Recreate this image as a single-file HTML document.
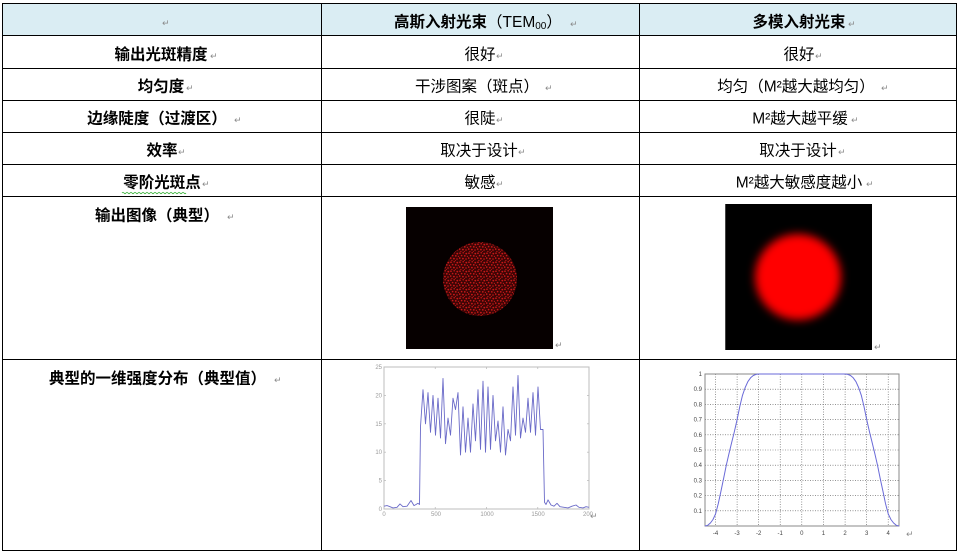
<!DOCTYPE html>
<html><head><meta charset="utf-8">
<style>
html,body{margin:0;padding:0;background:#fff;}
svg{display:block;}
.t{font-family:"Liberation Sans","Noto Sans CJK SC",sans-serif;font-size:15.5px;fill:#000;}
.b{font-weight:bold;}
.r{font-family:"DejaVu Sans",sans-serif;font-size:9px;fill:#8a8a8a;}
.a1{font-family:"Liberation Sans",sans-serif;font-size:6px;fill:#9a9a9a;}
.a2{font-family:"Liberation Sans",sans-serif;font-size:6px;fill:#444;}
</style></head>
<body>
<svg width="962" height="553" viewBox="0 0 962 553" xmlns="http://www.w3.org/2000/svg">
<defs>
  <pattern id="dots" x="0" y="0" width="9" height="9" patternUnits="userSpaceOnUse">
    <rect width="9" height="9" fill="#3e0505"/>
    <g fill="#c81818">
      <circle cx="1" cy="1.2" r="0.85"/><circle cx="4.2" cy="0.8" r="0.75"/><circle cx="7.3" cy="1.6" r="0.9"/>
      <circle cx="2.6" cy="3.6" r="0.8"/><circle cx="5.8" cy="3.9" r="0.85"/><circle cx="8.4" cy="4.4" r="0.6"/>
      <circle cx="0.7" cy="6.1" r="0.8"/><circle cx="3.9" cy="6.6" r="0.9"/><circle cx="7" cy="7" r="0.8"/>
      <circle cx="1.9" cy="8.5" r="0.6"/><circle cx="5.4" cy="8.7" r="0.55"/>
    </g>
  </pattern>
  <filter id="bl" x="-50%" y="-50%" width="200%" height="200%"><feGaussianBlur stdDeviation="4.5"/></filter>
  <clipPath id="img2"><rect x="725" y="204" width="147" height="146"/></clipPath>
</defs>

<!-- header background -->
<rect x="2" y="3" width="955" height="32" fill="#daedf3"/>

<!-- table lines -->
<g stroke="#000" stroke-width="1" fill="none">
  <rect x="2.5" y="3.5" width="954" height="547"/>
  <line x1="2" y1="35.5" x2="957" y2="35.5"/>
  <line x1="2" y1="68.5" x2="957" y2="68.5"/>
  <line x1="2" y1="100.5" x2="957" y2="100.5"/>
  <line x1="2" y1="132.5" x2="957" y2="132.5"/>
  <line x1="2" y1="164.5" x2="957" y2="164.5"/>
  <line x1="2" y1="196.5" x2="957" y2="196.5"/>
  <line x1="2" y1="359.5" x2="957" y2="359.5"/>
  <line x1="321.5" y1="3" x2="321.5" y2="551"/>
  <line x1="639.5" y1="3" x2="639.5" y2="551"/>
</g>

<!-- header -->
<text class="r" x="162" y="26">↵</text>
<text class="t" x="394" y="27"><tspan class="b">高斯入射光束</tspan>（TEM<tspan font-size="10" dy="2">00</tspan><tspan dy="-2">）</tspan></text>
<text class="r" x="570" y="27">↵</text>
<text class="t b" x="799" y="27" text-anchor="middle">多模入射光束</text>
<text class="r" x="848" y="27">↵</text>

<!-- column 1 -->
<text class="t b" x="161" y="59.5" text-anchor="middle">输出光斑精度</text><text class="r" x="210" y="59">↵</text>
<text class="t b" x="161" y="91.5" text-anchor="middle">均匀度</text><text class="r" x="186" y="91">↵</text>
<text class="t b" x="157" y="123.5" text-anchor="middle">边缘陡度（过渡区）</text><text class="r" x="234" y="123">↵</text>
<text class="t b" x="162" y="155.5" text-anchor="middle">效率</text><text class="r" x="178" y="155">↵</text>
<text class="t b" x="162" y="187.5" text-anchor="middle">零阶光斑点</text><text class="r" x="202" y="187">↵</text>
<path d="M122 193 q1 -1.5 2 0 t2 0 t2 0 t2 0 t2 0 t2 0 t2 0 t2 0 t2 0 t2 0 t2 0 t2 0 t2 0 t2 0 t2 0 t2 0 t2 0 t2 0 t2 0 t2 0 t2 0 t2 0 t2 0 t2 0 t2 0 t2 0 t2 0 t2 0 t2 0 t2 0 t2 0 t2 0" stroke="#3cb43c" stroke-width="0.8" fill="none"/>
<text class="t b" x="157" y="220.5" text-anchor="middle">输出图像（典型）</text><text class="r" x="227" y="220">↵</text>
<text class="t b" x="157.5" y="383.5" text-anchor="middle">典型的一维强度分布（典型值）</text><text class="r" x="274" y="383">↵</text>

<!-- column 2 -->
<text class="t" x="480" y="59.5" text-anchor="middle">很好</text><text class="r" x="496" y="59">↵</text>
<text class="t" x="477" y="91.5" text-anchor="middle">干涉图案（斑点）</text><text class="r" x="545" y="91">↵</text>
<text class="t" x="480" y="123.5" text-anchor="middle">很陡</text><text class="r" x="496" y="123">↵</text>
<text class="t" x="479" y="155.5" text-anchor="middle">取决于设计</text><text class="r" x="518" y="155">↵</text>
<text class="t" x="480" y="187.5" text-anchor="middle">敏感</text><text class="r" x="496" y="187">↵</text>

<!-- column 3 -->
<text class="t" x="799" y="59.5" text-anchor="middle">很好</text><text class="r" x="815" y="59">↵</text>
<text class="t" x="796" y="91.5" text-anchor="middle">均匀（M²越大越均匀）</text><text class="r" x="881" y="91">↵</text>
<text class="t" x="800" y="123.5" text-anchor="middle">M²越大越平缓</text><text class="r" x="851" y="123">↵</text>
<text class="t" x="798" y="155.5" text-anchor="middle">取决于设计</text><text class="r" x="838" y="155">↵</text>
<text class="t" x="799" y="187.5" text-anchor="middle">M²越大敏感度越小</text><text class="r" x="866" y="187">↵</text>

<!-- image 1: speckle -->
<rect x="406" y="207" width="147" height="142" fill="#060000"/>
<circle cx="480" cy="279" r="37" fill="url(#dots)"/>
<text class="r" x="555" y="348">↵</text>

<!-- image 2: blurred spot -->
<rect x="725" y="204" width="147" height="146" fill="#000"/>
<line x1="725.5" y1="204" x2="725.5" y2="350" stroke="#444" stroke-width="1"/>
<g clip-path="url(#img2)">
  <circle cx="798" cy="277" r="43" fill="#ff0000" filter="url(#bl)"/>
</g>
<text class="r" x="874" y="350">↵</text>

<!-- chart 1 -->
<g>
  <rect x="384" y="367" width="205" height="142" fill="#fff" stroke="#bdbdbd" stroke-width="1"/>
  <g stroke="#bdbdbd" stroke-width="0.8">
    <line x1="435.25" y1="509" x2="435.25" y2="507"/><line x1="486.5" y1="509" x2="486.5" y2="507"/><line x1="537.75" y1="509" x2="537.75" y2="507"/>
    <line x1="435.25" y1="367" x2="435.25" y2="369"/><line x1="486.5" y1="367" x2="486.5" y2="369"/><line x1="537.75" y1="367" x2="537.75" y2="369"/>
    <line x1="384" y1="480.6" x2="386" y2="480.6"/><line x1="384" y1="452.2" x2="386" y2="452.2"/><line x1="384" y1="423.8" x2="386" y2="423.8"/><line x1="384" y1="395.4" x2="386" y2="395.4"/>
    <line x1="589" y1="480.6" x2="587" y2="480.6"/><line x1="589" y1="452.2" x2="587" y2="452.2"/><line x1="589" y1="423.8" x2="587" y2="423.8"/><line x1="589" y1="395.4" x2="587" y2="395.4"/>
  </g>
  <g class="a1" text-anchor="end">
    <text x="382" y="511">0</text><text x="382" y="482.6">5</text><text x="382" y="454.2">10</text>
    <text x="382" y="425.8">15</text><text x="382" y="397.4">20</text><text x="382" y="369">25</text>
  </g>
  <g class="a1" text-anchor="middle">
    <text x="384" y="516">0</text><text x="436" y="516">500</text><text x="487" y="516">1000</text>
    <text x="538" y="516">1500</text><text x="588" y="516">200</text>
  </g>
  <polyline fill="none" stroke="#6a6ac8" stroke-width="0.9" stroke-linejoin="round" points="
384,506.2 387,505.6 390,506.7 393,507.9 397,507.3 400,503.9 403,506.7 407,506.2 411,500.5 414,505.6 416,504.5 418,503.3 419.5,504.5
420.5,426.6 423,389.7 425.5,423.8 428,392.6 430.5,432.3 433,395.4 435.5,435.2 438,398.2 440.5,438 443,378.4
445.5,443.7 448,418.1 450.5,435.2 453,398.2 455.5,409.6 458,392.6 460.5,455 463,406.8 465.5,452.2 468,418.1
470.5,452.2 473,403.9 475.5,440.8 478,389.7 480.5,449.4 483,381.2 485.5,452.2 488,386.9 490.5,449.4 493,395.4
495.5,440.8 498,421 500.5,452.2 503,406.8 505.5,455 508,429.5 510.5,440.8 513,386.9 515.5,435.2 518,375.5
520.5,438 523,418.1 525.5,432.3 528,398.2 530.5,432.3 533,392.6 535.5,435.2 538,386.9 540.5,429.5 543,429.5
544.5,502.2 546,504.5 548,499.9 551,505 554,506.2 557,503.3 560,506.7 564,507.3 568,507.9 572,506.2 576,505 579,507.3 583,507.9 586,506.7 589,507.3"/>
  <text class="r" x="590" y="519">↵</text>
</g>

<!-- chart 2 -->
<g>
  <rect x="705" y="374" width="194" height="152" fill="#fff"/>
  <g stroke="#555" stroke-width="0.6" stroke-dasharray="1,1.5">
    <line x1="715.6" y1="374" x2="715.6" y2="526"/><line x1="737.1" y1="374" x2="737.1" y2="526"/>
    <line x1="758.7" y1="374" x2="758.7" y2="526"/><line x1="780.2" y1="374" x2="780.2" y2="526"/>
    <line x1="801.8" y1="374" x2="801.8" y2="526"/><line x1="823.4" y1="374" x2="823.4" y2="526"/>
    <line x1="845.1" y1="374" x2="845.1" y2="526"/><line x1="866.7" y1="374" x2="866.7" y2="526"/>
    <line x1="888.2" y1="374" x2="888.2" y2="526"/>
    <line x1="705" y1="510.8" x2="899" y2="510.8"/><line x1="705" y1="495.6" x2="899" y2="495.6"/>
    <line x1="705" y1="480.4" x2="899" y2="480.4"/><line x1="705" y1="465.2" x2="899" y2="465.2"/>
    <line x1="705" y1="450" x2="899" y2="450"/><line x1="705" y1="434.8" x2="899" y2="434.8"/>
    <line x1="705" y1="419.6" x2="899" y2="419.6"/><line x1="705" y1="404.4" x2="899" y2="404.4"/>
    <line x1="705" y1="389.2" x2="899" y2="389.2"/>
  </g>
  <rect x="705" y="374" width="194" height="152" fill="none" stroke="#8a8a8a" stroke-width="1"/>
  <g class="a2" text-anchor="end">
    <text x="702" y="376">1</text><text x="702" y="391.2">0.9</text><text x="702" y="406.4">0.8</text>
    <text x="702" y="421.6">0.7</text><text x="702" y="436.8">0.6</text><text x="702" y="452">0.5</text>
    <text x="702" y="467.2">0.4</text><text x="702" y="482.4">0.3</text><text x="702" y="497.6">0.2</text>
    <text x="702" y="512.8">0.1</text>
  </g>
  <g class="a2" text-anchor="middle">
    <text x="715.6" y="535">-4</text><text x="737.1" y="535">-3</text><text x="758.7" y="535">-2</text>
    <text x="780.2" y="535">-1</text><text x="801.8" y="535">0</text><text x="823.4" y="535">1</text>
    <text x="845.1" y="535">2</text><text x="866.7" y="535">3</text><text x="888.2" y="535">4</text>
  </g>
  <polyline fill="none" stroke="#6a6ad8" stroke-width="1" stroke-linejoin="round" points="
705,526 707.7,525.3 710.4,523 713,519.5 715.6,513.8 718.3,503.5 721,491 723.6,478.5 726.3,465.2 729,453.5 731.7,442.4 734.4,431.5 737.1,419.6 739.8,406.5 742.5,395.3 745.2,387.5 747.9,381.6 750.6,377.8 753.3,375.5 756,374.4 758.7,374
845.1,374 847.8,374.4 850.5,375.5 853.2,377.8 855.9,381.6 858.6,387.5 861.3,395.3 864,406.5 866.7,419.6 869.4,431.5 872.1,442.4 874.8,453.5 877.5,465.2 880.2,478.5 882.9,491 885.5,503.5 888.2,513.8 890.9,519.5 893.6,523 896.3,525.3 899,526"/>
  <text class="r" x="906" y="537">↵</text>
</g>
</svg>
</body></html>
